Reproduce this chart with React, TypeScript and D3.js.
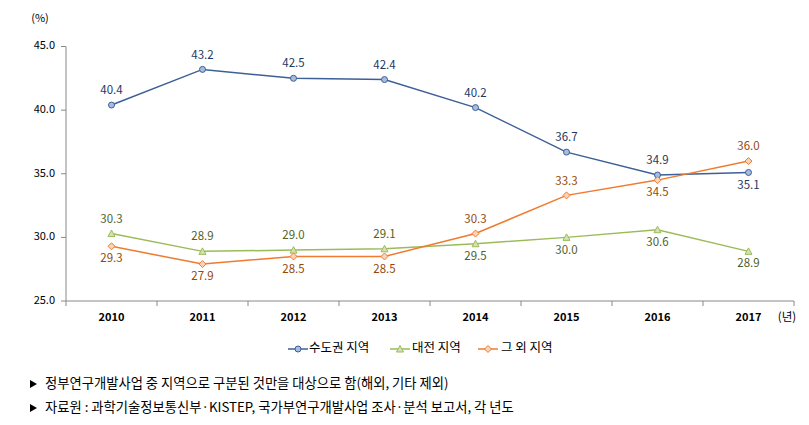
import React from "react";
import * as d3 from "d3";

const years = ["2010", "2011", "2012", "2013", "2014", "2015", "2016", "2017"];
const capital = [40.4, 43.2, 42.5, 42.4, 40.2, 36.7, 34.9, 35.1];
const daejeon = [30.3, 28.9, 29.0, 29.1, 29.5, 30.0, 30.6, 28.9];
const others = [29.3, 27.9, 28.5, 28.5, 30.3, 33.3, 34.5, 36.0];
const yTicks = [25, 30, 35, 40, 45];
const seriesNames = ["수도권 지역", "대전 지역", "그 외 지역"];
// label side: 1 = above, -1 = below
const capitalPos = [1, 1, 1, 1, 1, 1, 1, -1];
const daejeonPos = [1, 1, 1, 1, -1, -1, -1, -1];
const othersPos = [-1, -1, -1, -1, 1, 1, -1, 1];
const notes = [
  "정부연구개발사업 중 지역으로 구분된 것만을 대상으로 함(해외, 기타 제외)",
  "자료원 : 과학기술정보통신부·KISTEP, 국가부연구개발사업 조사·분석 보고서, 각 년도",
];

const FONT = "'Noto Sans CJK KR', 'Noto Sans', sans-serif";

export default function App() {
  const W = 809, H = 425;
  const x0 = 66, x1 = 794;
  const x = d3.scaleBand<string>().domain(years).range([x0, x1]);
  const y = d3.scaleLinear().domain([25, 45]).range([301, 46.5]);
  const cx = (i: number) => (x(years[i]) as number) + x.bandwidth() / 2;
  const line = d3.line<number>().x((_, i) => cx(i)).y((v) => y(v));

  const series = [
    { name: seriesNames[0], data: capital, pos: capitalPos, color: "#3C5F97", fill: "#A8BCDD", label: "#1F3864", marker: "circle" },
    { name: seriesNames[1], data: daejeon, pos: daejeonPos, color: "#9BBB59", fill: "#D3E2B4", label: "#4F6228", marker: "triangle" },
    { name: seriesNames[2], data: others, pos: othersPos, color: "#F07A2E", fill: "#FBD3B8", label: "#984807", marker: "diamond" },
  ];

  const marker = (type: string, px: number, py: number, s: any, key: any) => {
    if (type === "circle")
      return <circle key={key} cx={px} cy={py} r={3} fill={s.fill} stroke={s.color} strokeWidth={1} />;
    if (type === "triangle")
      return <path key={key} d={`M${px},${py - 3.5}L${px + 3.5},${py + 3}L${px - 3.5},${py + 3}Z`} fill={s.fill} stroke={s.color} strokeWidth={1} />;
    return <path key={key} d={`M${px},${py - 3.5}L${px + 3.5},${py}L${px},${py + 3.5}L${px - 3.5},${py}Z`} fill={s.fill} stroke={s.color} strokeWidth={1} />;
  };

  const legendLineX = [288, 390, 478];
  const legendTextX = [309, 412, 501];

  return (
    <svg width={W} height={H} style={{ position: "absolute", left: 0, top: 0, background: "#fff" }} fontFamily={FONT}>
      <rect width={W} height={H} fill="#fff" />
      {/* y axis */}
      <line x1={x0} x2={x0} y1={y(45)} y2={y(25)} stroke="#888" strokeWidth={1} />
      {yTicks.map((t) => (
        <g key={t}>
          <line x1={x0 - 5} x2={x0} y1={y(t)} y2={y(t)} stroke="#888" />
          <text x={x0 - 11} y={y(t)} textAnchor="end" dominantBaseline="middle" fontSize={11} fill="#000">
            {t.toFixed(1)}
          </text>
        </g>
      ))}
      <text x={40} y={19} textAnchor="middle" dominantBaseline="middle" fontSize={11}>(%)</text>
      {/* x axis */}
      <line x1={x0} x2={x1} y1={y(25)} y2={y(25)} stroke="#888" />
      {years.map((yr, i) => (
        <g key={yr}>
          <line x1={x(yr) as number} x2={x(yr) as number} y1={y(25)} y2={y(25) + 5} stroke="#888" />
          <text x={cx(i)} y={318} textAnchor="middle" dominantBaseline="middle" fontSize={11} fontWeight="bold">
            {yr}
          </text>
        </g>
      ))}
      <line x1={x1} x2={x1} y1={y(25)} y2={y(25) + 5} stroke="#888" />
      <text x={787} y={318} textAnchor="middle" dominantBaseline="middle" fontSize={11.5}>(년)</text>

      {series.map((s, si) => (
        <g key={si}>
          <path d={line(s.data) as string} fill="none" stroke={s.color} strokeWidth={1.5} />
          {s.data.map((v, i) => marker(s.marker, cx(i), y(v), s, i))}
          {s.data.map((v, i) => (
            <text key={"l" + i} x={cx(i)} y={y(v) + (s.pos[i] > 0 ? -14 : 13)} textAnchor="middle" dominantBaseline="middle" fontSize={11.5} fill={s.label}>
              {v.toFixed(1)}
            </text>
          ))}
        </g>
      ))}

      {/* legend */}
      {series.map((s, si) => (
        <g key={"lg" + si}>
          <line x1={legendLineX[si]} x2={legendLineX[si] + 20} y1={349} y2={349} stroke={s.color} strokeWidth={1.5} />
          {marker(s.marker, legendLineX[si] + 10, 349, s, "m")}
          <text x={legendTextX[si]} y={349} dominantBaseline="middle" fontSize={12.5} fill="#000">
            {s.name}
          </text>
        </g>
      ))}

      {/* notes */}
      {notes.map((n, i) => (
        <g key={"n" + i}>
          <path d={`M30,${384 + i * 24 - 4}L37,${384 + i * 24}L30,${384 + i * 24 + 4}Z`} fill="#000" />
          <text x={45} y={384 + i * 24} dominantBaseline="middle" fontSize={13.3} fill="#000">
            {n}
          </text>
        </g>
      ))}
    </svg>
  );
}
